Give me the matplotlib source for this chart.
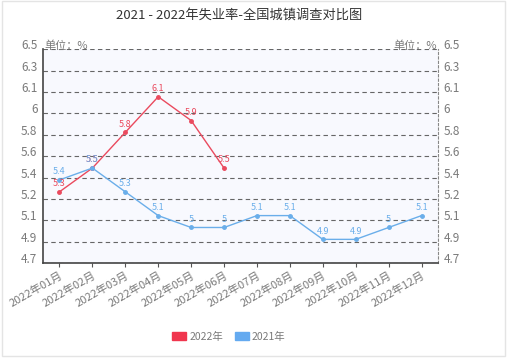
import matplotlib.pyplot as plt
from matplotlib.patches import Patch, Rectangle
import numpy as np

plt.rcParams['font.family'] = ['Noto Sans CJK SC', 'DejaVu Sans']

months = ['2022年01月', '2022年02月', '2022年03月', '2022年04月', '2022年05月', '2022年06月',
          '2022年07月', '2022年08月', '2022年09月', '2022年10月', '2022年11月', '2022年12月']
rate_2022 = [5.3, 5.5, 5.8, 6.1, 5.9, 5.5]
rate_2021 = [5.4, 5.5, 5.3, 5.1, 5.0, 5.0, 5.1, 5.1, 4.9, 4.9, 5.0, 5.1]
label_2021 = ['5.4', '5.5', '5.3', '5.1', '5', '5', '5.1', '5.1', '4.9', '4.9', '5', '5.1']
label_2022 = ['5.3', '5.5', '5.8', '6.1', '5.9', '5.5']

red = '#ea4a5e'
blue = '#6aaeea'
gray = '#7a7a7a'

fig = plt.figure(figsize=(5.09, 3.59), dpi=100)
fig.patches.append(Rectangle((0.003, 0.008), 0.99, 0.99, transform=fig.transFigure,
                             fill=False, edgecolor='#e4e4e4', linewidth=1))
ax = fig.add_axes([0.0845, 0.267, 0.776, 0.596])
ax.set_facecolor('#f8f9fe')

x = np.arange(len(months))
ax.plot(x[:len(rate_2022)], rate_2022, color=red, lw=1, marker='o', ms=2.5, zorder=3)
ax.plot(x, rate_2021, color=blue, lw=1, marker='o', ms=2.5, zorder=3)
for i, v in enumerate(rate_2022):
    ax.annotate(label_2022[i], (i, v), xytext=(0, 4), textcoords='offset points',
                ha='center', fontsize=6.5, color=red)
for i, v in enumerate(rate_2021):
    ax.annotate(label_2021[i], (i, v), xytext=(0, 4), textcoords='offset points',
                ha='center', fontsize=6.5, color=blue)

yt = np.linspace(4.7, 6.5, 11)
ylabels = ['4.7', '4.9', '5.1', '5.2', '5.4', '5.6', '5.8', '6', '6.1', '6.3', '6.5']
ax.set_ylim(4.7, 6.5)
ax.set_xlim(-0.5, 11.5)
ax.set_yticks(yt)
ax.set_yticklabels(ylabels, fontsize=8.5, color=gray)
ax.tick_params(axis='y', length=0, pad=4, right=True, labelright=True)
for t in ax.get_yticklabels() + ax.get_yticklabels(which='both'):
    t.set_verticalalignment('baseline')
for t in ax.yaxis.get_majorticklabels():
    t.set_verticalalignment('baseline')
for tk in ax.yaxis.get_major_ticks():
    tk.label2.set_verticalalignment('baseline')
ax.set_xticks(x)
ax.set_xticklabels(months, fontsize=8, color=gray, rotation=30, ha='right',
                   rotation_mode='anchor')
ax.tick_params(axis='x', length=3, color='#555555', pad=2)
ax.grid(axis='y', color='#666666', ls=(0, (4, 3)), lw=0.8)

ax.spines['left'].set_color('#444444')
ax.spines['bottom'].set_color('#444444')
ax.spines['left'].set_linewidth(1.2)
ax.spines['bottom'].set_linewidth(1.2)
ax.spines['top'].set_visible(False)
ax.spines['right'].set_color('#888888')
ax.spines['right'].set_linestyle((0, (2, 2)))
ax.spines['right'].set_linewidth(0.8)

ax.text(0.003, 1.0, '单位：%', transform=ax.transAxes, fontsize=8, color=gray,
        ha='left', va='baseline')
ax.text(0.997, 1.0, '单位：%', transform=ax.transAxes, fontsize=8, color=gray,
        ha='right', va='baseline')

fig.suptitle('2021 - 2022年失业率-全国城镇调查对比图', fontsize=9.5, color='#333333',
             x=0.47, y=0.975)

handles = [Patch(color='#f0364e', label='2022年'), Patch(color='#64aaf0', label='2021年')]
fig.legend(handles=handles, loc='center', bbox_to_anchor=(0.45, 0.062), ncol=2,
           frameon=False, fontsize=7.5, handlelength=1.3, handleheight=0.7,
           handletextpad=0.3, columnspacing=1.2, labelcolor=gray)

fig.savefig('out.png', dpi=100)
